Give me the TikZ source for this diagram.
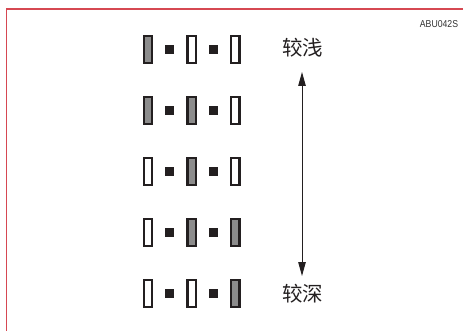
\documentclass[tikz,border=0pt]{standalone}
\usepackage{fontspec}
\usepackage{graphicx}
\setmainfont{Liberation Sans}
\newfontfamily\cjk{Noto Sans CJK SC}
\usetikzlibrary{arrows.meta}
\definecolor{framered}{RGB}{214,72,82}
\definecolor{ink}{RGB}{35,31,32}
\definecolor{fillgray}{RGB}{140,140,140}
\definecolor{labelgray}{RGB}{50,50,50}
\tikzset{
  slot/.style={draw=ink, line width=2.4pt, rectangle, inner sep=0pt,
    minimum width=8.3pt, minimum height=27.3pt},
  slotfull/.style={slot, fill=fillgray},
  slotempty/.style={slot, fill=white},
  dot/.style={fill=ink, rectangle, inner sep=0pt, minimum size=9pt},
  cn/.style={font=\cjk\fontsize{20.5pt}{22pt}\selectfont, text=ink, inner sep=0pt},
  arr/.style={draw=ink, line width=1pt, {Triangle[length=14pt,width=7.5pt]}-{Triangle[length=14pt,width=7.5pt]}},
}
\begin{document}
\begin{tikzpicture}[x=1pt,y=-1pt]
\useasboundingbox (0,0) rectangle (463,331);
\draw[framered, line width=1.6pt] (463,9) -- (6.5,9) -- (6.5,331);
\node[font=\fontsize{10pt}{12pt}\selectfont, text=labelgray, inner sep=0pt] (code) at (439,24.5) {\scalebox{0.87}[1]{ABU042S}};
% rows
\foreach \r/\a/\b/\c in {1/full/empty/empty, 2/full/full/empty, 3/empty/full/empty, 4/empty/full/full, 5/empty/empty/full}{
  \pgfmathsetmacro{\yy}{49.5+61*(\r-1)}
  \node[slot\a] (r\r a) at (148,\yy) {};
  \node[dot] (r\r d1) at (169.7,\yy) {};
  \node[slot\b] (r\r b) at (191.7,\yy) {};
  \node[dot] (r\r d2) at (213.5,\yy) {};
  \node[slot\c] (r\r c) at (235.3,\yy) {};
}
\node[cn] (shallow) at (302.5,47.5) {较浅};
\node[cn] (deep) at (302.5,293.5) {较深};
\coordinate (tipTop) at (302,72);
\coordinate (tipBot) at (302,276);
\draw[arr] (tipTop) -- (tipBot);
\end{tikzpicture}
\end{document}
